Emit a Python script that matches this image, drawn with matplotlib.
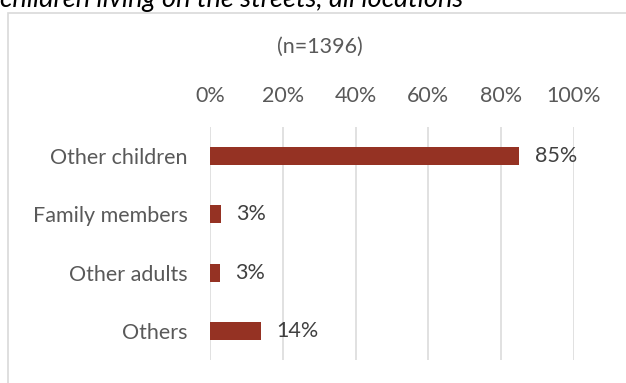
import matplotlib.pyplot as plt
from matplotlib.patches import Rectangle

categories = ["Other children", "Family members", "Other adults", "Others"]
values = [85, 3, 2.7, 14]
value_labels = ["85%", "3%", "3%", "14%"]
ticks = [0, 20, 40, 60, 80, 100]
tick_labels = ["0%", "20%", "40%", "60%", "80%", "100%"]

plt.rcParams['font.family'] = ['Lato', 'DejaVu Sans']

W, H = 626, 383
fig = plt.figure(figsize=(W / 100, H / 100), dpi=100)

# chart frame (extends past right and bottom edges, as in the cropped original)
fig.patches.append(Rectangle((8 / W, -0.1), 1.0, 1 - 12.5 / H + 0.1,
                             transform=fig.transFigure, fill=False,
                             edgecolor="#d9d9d9", linewidth=1.2))

# cropped figure title above the frame
fig.text(0.0, 1 - 7 / H, "children living on the streets, all locations",
         fontsize=19.5, style="italic", color="#000000", ha="left", va="baseline")

fig.text(319.5 / W, 1 - 47 / H, "(n=1396)", fontsize=15.5, color="#595959",
         ha="center", va="center")

ax = fig.add_axes([210 / W, 1 - 360 / H, 364 / W, 233 / H])
y = list(range(len(categories)))
ax.barh(y, values, height=0.31, color="#953223", zorder=3)

for yi, v, lab in zip(y, values, value_labels):
    ax.annotate(lab, (v, yi), xytext=(11, 0), textcoords="offset points",
                ha="left", va="center", fontsize=15.5, color="#404040")

ax.set_xlim(0, 100)
ax.set_ylim(3.5, -0.5)
ax.set_xticks(ticks)
ax.set_xticklabels(tick_labels)
ax.set_yticks(y)
ax.set_yticklabels(categories)
ax.xaxis.tick_top()
ax.tick_params(axis="x", length=0, pad=15, labelsize=15.5, labelcolor="#595959")
ax.tick_params(axis="y", length=0, pad=16, labelsize=15.5, labelcolor="#595959")
ax.grid(axis="x", color="#d9d9d9", linewidth=1.1, zorder=0)
for s in ax.spines.values():
    s.set_visible(False)

fig.savefig("out.png", dpi=100)
